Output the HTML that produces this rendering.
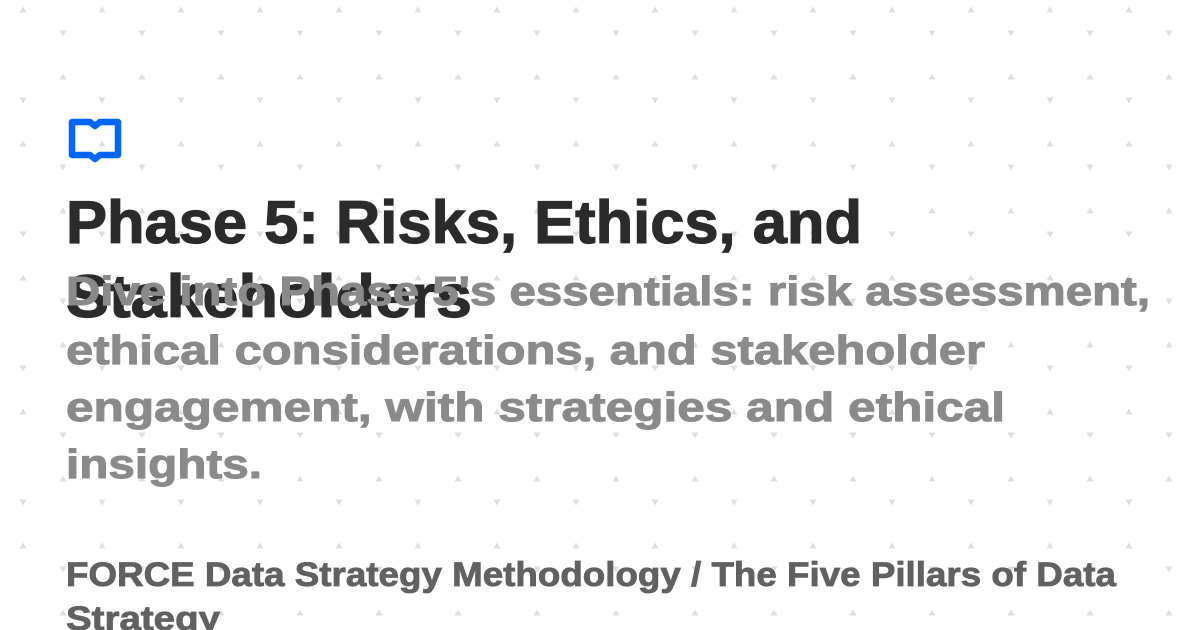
<!DOCTYPE html>
<html><head><meta charset="utf-8"><style>
html,body{margin:0;padding:0;background:#fff;}
svg{display:block;font-family:"Liberation Sans",sans-serif;font-weight:bold;}
</style></head><body>
<svg width="1200" height="630" viewBox="0 0 1200 630">
<defs>
<pattern id="dots" x="0" y="0" width="79" height="134" patternUnits="userSpaceOnUse">
<path d="M19.5 12.5 L23 6.5 L26.5 12.5 Z" fill="#dcdfe4"/>
<path d="M59.5 30.5 L66.5 30.5 L63 36.5 Z" fill="#dcdfe4"/>
<path d="M59.5 79.5 L63 73.5 L66.5 79.5 Z" fill="#dcdfe4"/>
<path d="M19.5 97.5 L26.5 97.5 L23 103.5 Z" fill="#dcdfe4"/>
</pattern>
</defs>
<rect width="1200" height="630" fill="#fff"/>
<rect width="1200" height="630" fill="url(#dots)"/>
<g>
<path d="M72 122 L90 122 L95 126 L100 122 L118 122 L118 155 L100 155 L95 159 L90 155 L72 155 Z" fill="none" stroke="#0066ff" stroke-width="6.5" stroke-linejoin="round"/>
</g>
<g fill="#2b2b2b" stroke="#2b2b2b" stroke-width="1.2" font-size="60">
<text x="66" y="243" textLength="796" lengthAdjust="spacingAndGlyphs">Phase 5: Risks, Ethics, and</text>
<text x="66" y="317" textLength="406" lengthAdjust="spacingAndGlyphs">Stakeholders</text>
</g>
<g fill="#8a8a8a" stroke="#8a8a8a" stroke-width="1" font-size="41">
<text x="66" y="305" textLength="1084" lengthAdjust="spacingAndGlyphs">Dive into Phase 5's essentials: risk assessment,</text>
<text x="66" y="364" textLength="919" lengthAdjust="spacingAndGlyphs">ethical considerations, and stakeholder</text>
<text x="66" y="421" textLength="939" lengthAdjust="spacingAndGlyphs">engagement, with strategies and ethical</text>
<text x="66" y="478" textLength="196" lengthAdjust="spacingAndGlyphs">insights.</text>
</g>
<g fill="#616161" stroke="#616161" stroke-width="0.8" font-size="34">
<text x="66" y="586" textLength="1050" lengthAdjust="spacingAndGlyphs">FORCE Data Strategy Methodology / The Five Pillars of Data</text>
<text x="66" y="630" textLength="154" lengthAdjust="spacingAndGlyphs">Strategy</text>
</g>
</svg>
</body></html>
